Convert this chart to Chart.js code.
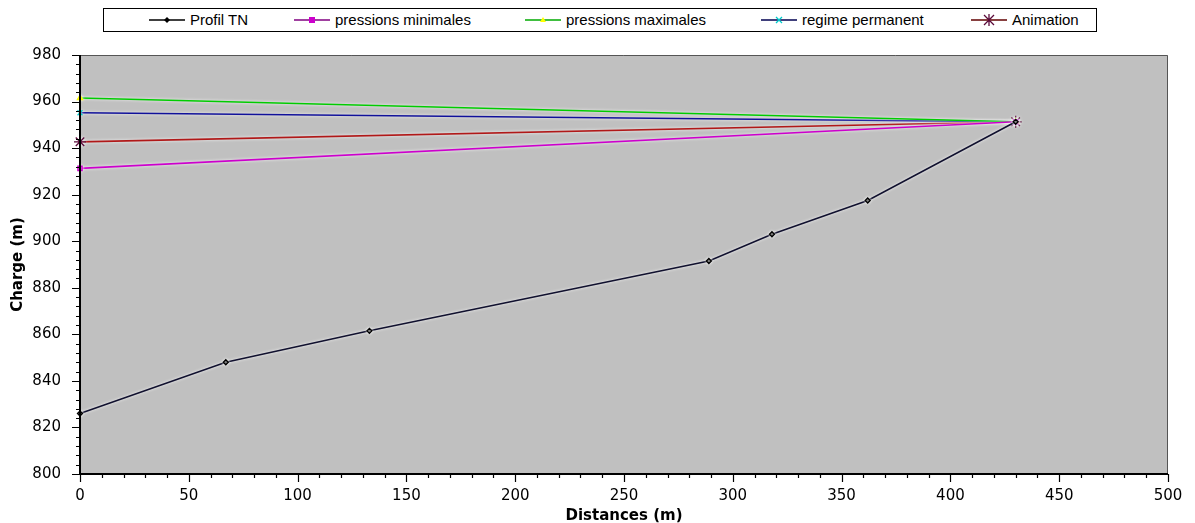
<!DOCTYPE html>
<html>
<head>
<meta charset="utf-8">
<script src="https://cdn.jsdelivr.net/npm/chart.js@4/dist/chart.umd.min.js"></script>
<style>
  body { margin: 0; background: #fff; }
  #wrap { position: relative; width: 1195px; height: 523px; }
  #legend {
    position: absolute; left: 103px; top: 8px; width: 992px; height: 22px;
    border: 1px solid #000; background: #fff;
    font-family: "Liberation Sans", Arial, sans-serif; font-size: 15px; color: #000;
  }
  .item { position: absolute; top: 2px; white-space: nowrap; }
  .item svg { vertical-align: middle; margin-right: 3px; margin-top: -2px; }
</style>
</head>
<body>
<div id="wrap">
  <canvas id="chart" width="1195" height="523"></canvas>
  <div id="legend"></div>
</div>
<script>
// distances (m) et charges (m)
const distances = [0, 67, 133, 289, 318, 362, 430];
const profilTN = [826, 848, 861.5, 891.5, 903, 917.5, 951.3];
const extremites = [0, 430];
const pressionsMin = [931.3, 951.3];
const pressionsMax = [961.5, 951.3];
const regimePermanent = [955.2, 951.3];
const animationCharge = [942.7, 951.3];
const xTicks = [0, 50, 100, 150, 200, 250, 300, 350, 400, 450, 500];
const yTicks = [800, 820, 840, 860, 880, 900, 920, 940, 960, 980];

function pts(xs, ys) {
    return xs.map((x, i) => ({ x: x, y: ys[i] }));
}

const series = [
    { label: 'Profil TN', data: pts(distances, profilTN), line: '#10102e', legendLine: '#000', point: '#000', style: 'rectRot', r: 2.5, left: 45 },
    { label: 'pressions minimales', data: pts(extremites, pressionsMin), line: '#cc00cc', legendLine: '#800080', point: '#cc00cc', style: 'rect', r: 3, left: 190 },
    { label: 'pressions maximales', data: pts(extremites, pressionsMax), line: '#00cc00', legendLine: '#00aa00', point: '#ffff00', style: 'triangle', r: 3, left: 421 },
    { label: 'regime permanent', data: pts(extremites, regimePermanent), line: '#10109a', legendLine: '#000050', point: '#00cccc', style: 'crossRot', r: 3.5, left: 657 },
    { label: 'Animation', data: pts(extremites, animationCharge), line: '#b01818', legendLine: '#600000', point: '#5a0a3a', style: 'star', r: 6, left: 867 }
];

// legende
const legend = document.getElementById('legend');
series.forEach(s => {
    let marker = '';
    if (s.style === 'rectRot') marker = '<polygon points="18,5 21,8 18,11 15,8" fill="' + s.point + '"/>';
    if (s.style === 'rect') marker = '<rect x="15" y="5" width="6" height="6" fill="' + s.point + '"/>';
    if (s.style === 'triangle') marker = '<polygon points="18,5 21,10 15,10" fill="' + s.point + '"/>';
    if (s.style === 'crossRot') marker = '<path d="M15,5 L21,11 M21,5 L15,11" stroke="' + s.point + '" stroke-width="1.3"/>';
    if (s.style === 'star') marker = '<path d="M13,3 L23,13 M23,3 L13,13 M18,2 L18,14" stroke="' + s.point + '" stroke-width="1.3"/>';
    const div = document.createElement('div');
    div.className = 'item';
    div.style.left = s.left + 'px';
    div.innerHTML = '<svg width="38" height="16"><line x1="0" y1="8" x2="36" y2="8" stroke="' + s.legendLine + '" stroke-width="1.5"/>' + marker + '</svg>' + s.label;
    legend.appendChild(div);
});

const plotBg = {
    id: 'plotBg',
    beforeDraw(chart) {
        const { ctx, chartArea: a } = chart;
        ctx.save();
        ctx.fillStyle = '#c0c0c0';
        ctx.fillRect(a.left, a.top, a.right - a.left, a.bottom - a.top);
        ctx.strokeStyle = '#555';
        ctx.lineWidth = 1;
        ctx.beginPath();
        ctx.moveTo(a.left, a.top + 0.5);
        ctx.lineTo(a.right - 0.5, a.top + 0.5);
        ctx.lineTo(a.right - 0.5, a.bottom);
        ctx.stroke();
        ctx.restore();
    },
    beforeDatasetsDraw(chart) {
        chart.ctx.save();
        chart.ctx.shadowColor = 'rgba(255,255,255,0.95)';
        chart.ctx.shadowBlur = 3;
    },
    afterDatasetsDraw(chart) {
        chart.ctx.restore();
    },
    afterDraw(chart) {
        const { ctx, chartArea: a, scales } = chart;
        const x = scales.x, y = scales.y;
        ctx.save();
        ctx.strokeStyle = '#000';
        ctx.lineWidth = 2;
        ctx.beginPath();
        ctx.moveTo(a.left, a.top);
        ctx.lineTo(a.left, a.bottom);
        ctx.lineTo(a.right, a.bottom);
        ctx.stroke();
        ctx.lineWidth = 1.2;
        ctx.beginPath();
        for (let v = 0; v <= 500; v += 10) {
            const px = Math.round(x.getPixelForValue(v)) + 0.5;
            const len = v % 50 === 0 ? 8 : 4;
            ctx.moveTo(px, a.bottom);
            ctx.lineTo(px, a.bottom + len);
        }
        for (let v = 800; v <= 980; v += 4) {
            const py = Math.round(y.getPixelForValue(v)) + 0.5;
            const len = v % 20 === 0 ? 8 : 4;
            ctx.moveTo(a.left, py);
            ctx.lineTo(a.left - len, py);
        }
        ctx.stroke();
        ctx.restore();
    }
};

new Chart(document.getElementById('chart'), {
    type: 'line',
    data: {
        datasets: series.map(s => ({
            label: s.label,
            data: s.data,
            borderColor: s.line,
            borderWidth: 1.6,
            backgroundColor: s.point,
            pointBorderColor: s.point,
            pointBackgroundColor: s.point,
            pointStyle: s.style,
            pointRadius: s.r,
            pointBorderWidth: 1.3,
            tension: 0,
            fill: false,
            clip: false
        }))
    },
    options: {
        responsive: false,
        animation: false,
        layout: { padding: { top: 55, right: 27, left: 0, bottom: 0 } },
        plugins: {
            legend: { display: false },
            tooltip: { enabled: false }
        },
        scales: {
            x: {
                type: 'linear',
                min: 0,
                max: 500,
                afterBuildTicks: axis => { axis.ticks = xTicks.map(v => ({ value: v })); },
                afterFit: axis => { axis.height = 49; },
                ticks: { color: '#000', padding: 5, maxRotation: 0, font: { family: 'DejaVu Sans', size: 15 } },
                grid: { display: false },
                border: { display: false },
                title: { display: true, text: 'Distances (m)', color: '#000', padding: { top: 2, bottom: -2 }, font: { family: 'DejaVu Sans', size: 15, weight: 'bold' } }
            },
            y: {
                min: 800,
                max: 980,
                afterBuildTicks: axis => { axis.ticks = yTicks.map(v => ({ value: v })); },
                afterFit: axis => { axis.width = 80; },
                ticks: { color: '#000', padding: 11, font: { family: 'DejaVu Sans', size: 15 } },
                grid: { display: false },
                border: { display: false },
                title: { display: true, text: 'Charge (m)', color: '#000', padding: { top: 9, bottom: 4 }, font: { family: 'DejaVu Sans', size: 15, weight: 'bold' } }
            }
        }
    },
    plugins: [plotBg]
});
</script>
</body>
</html>
